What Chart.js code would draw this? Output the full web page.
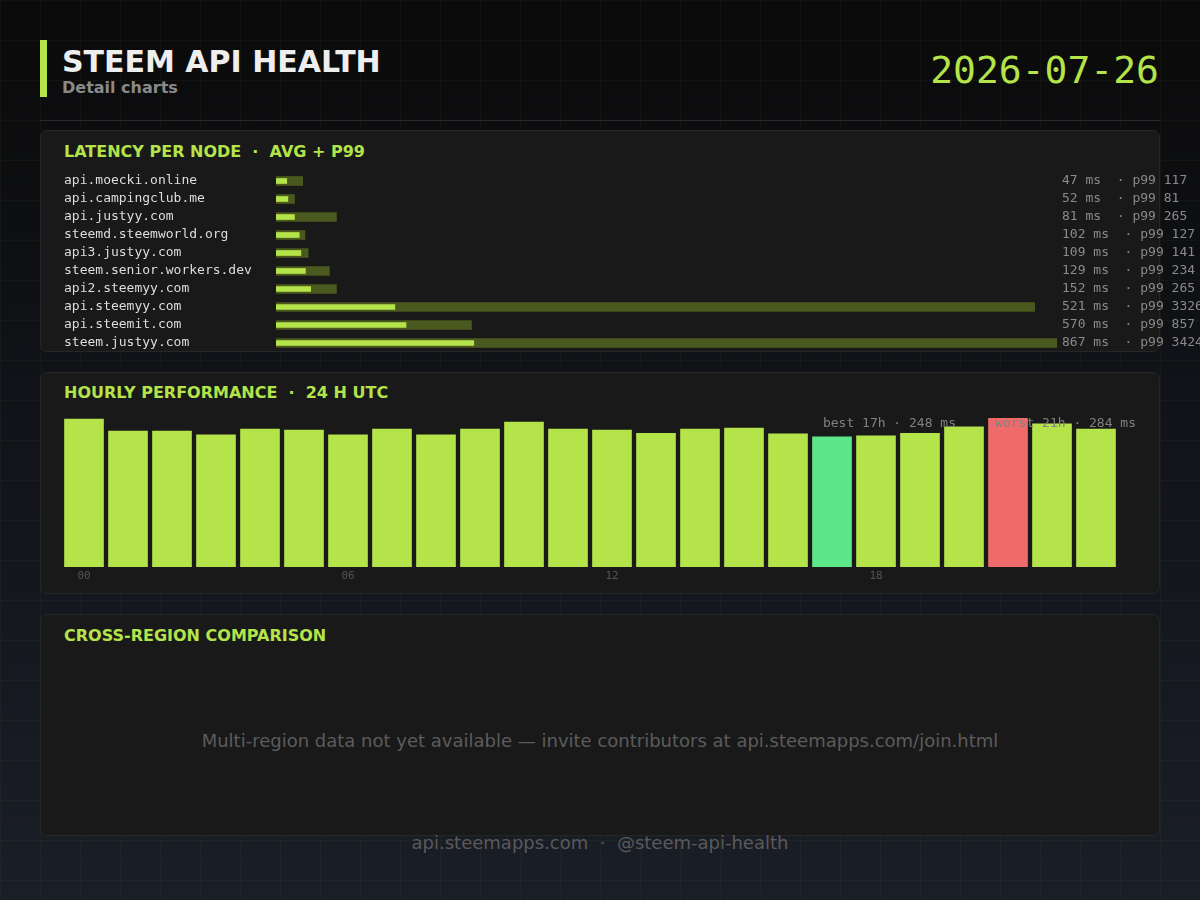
<!DOCTYPE html>
<html>
<head>
<meta charset="utf-8">
<script src="https://cdn.jsdelivr.net/npm/chart.js@4/dist/chart.umd.min.js"></script>
<style>
  html, body { margin: 0; padding: 0; }
  body {
    width: 1200px; height: 900px; overflow: hidden; position: relative;
    background-color: #0b0b0b;
    background-image:
      linear-gradient(rgba(181, 227, 74, 0.035) 1px, transparent 1px),
      linear-gradient(90deg, rgba(181, 227, 74, 0.035) 1px, transparent 1px),
      linear-gradient(180deg, #0a0a0a 0%, #12141a 50%, #1a1e27 100%);
    background-size: 40px 40px, 40px 40px, 100% 100%;
    font-family: "DejaVu Sans", sans-serif;
  }
  .abs { position: absolute; }
  .accent { left: 40px; top: 40px; width: 7px; height: 57px; background: #b5e34a; }
  .title { left: 62px; top: 42px; font-size: 30px; font-weight: bold; color: #eeeeee; line-height: 40px; }
  .subtitle { left: 62px; top: 78px; font-size: 16px; font-weight: bold; color: #8a8a8a; line-height: 20px; }
  .date { right: 41px; top: 46px; font-family: "DejaVu Sans Mono", monospace; font-size: 38px; color: #b5e34a; line-height: 48px; }
  .divider { left: 40px; top: 120px; width: 1120px; height: 1px; background: #2a2a2a; }
  .panel { left: 40px; width: 1118px; height: 220px; background: #191919; border: 1px solid #262626; border-radius: 7px; }
  .ptitle { left: 64px; font-size: 16px; font-weight: bold; color: #b5e34a; white-space: pre; line-height: 20px; }
  .note { right: 64px; top: 414px; font-family: "DejaVu Sans Mono", monospace; font-size: 13px; color: #808080; white-space: pre; line-height: 18px; z-index: 2; }
  .empty { left: 40px; width: 1120px; top: 730px; text-align: center; font-size: 18px; color: #5c5c5c; line-height: 22px; }
  .footer { left: 0; width: 1200px; top: 832px; text-align: center; font-size: 18px; color: #5a5a5a; white-space: pre; line-height: 22px; }
  canvas { position: absolute; }
</style>
</head>
<body>
<div class="abs accent"></div>
<div class="abs title">STEEM API HEALTH</div>
<div class="abs subtitle">Detail charts</div>
<div class="abs date" id="date"></div>
<div class="abs divider"></div>

<div class="abs panel" style="top:130px;"></div>
<div class="abs ptitle" style="top:142px;">LATENCY PER NODE  ·  AVG + P99</div>
<canvas id="latencyChart" width="1136" height="180" style="left:64px; top:172px;"></canvas>

<div class="abs panel" style="top:372px;"></div>
<div class="abs ptitle" style="top:383px;">HOURLY PERFORMANCE  ·  24 H UTC</div>
<canvas id="hourlyChart" width="1056" height="180" style="left:62px; top:412px;"></canvas>
<div class="abs note" id="hourNote"></div>

<div class="abs panel" style="top:614px;"></div>
<div class="abs ptitle" style="top:626px;">CROSS-REGION COMPARISON</div>
<div class="abs empty">Multi-region data not yet available — invite contributors at api.steemapps.com/join.html</div>

<div class="abs footer">api.steemapps.com  ·  @steem-api-health</div>

<script>
const reportDate = "2026-07-26";

const nodes = [
  "api.moecki.online",
  "api.campingclub.me",
  "api.justyy.com",
  "steemd.steemworld.org",
  "api3.justyy.com",
  "steem.senior.workers.dev",
  "api2.steemyy.com",
  "api.steemyy.com",
  "api.steemit.com",
  "steem.justyy.com",
];
const avgMs = [47, 52, 81, 102, 109, 129, 152, 521, 570, 867];
const p99Ms = [117, 81, 265, 127, 141, 234, 265, 3326, 857, 3424];

const hours = ["00", "01", "02", "03", "04", "05", "06", "07", "08", "09", "10", "11",
               "12", "13", "14", "15", "16", "17", "18", "19", "20", "21", "22", "23"];
const hourlyMs = [282, 259, 259, 252, 263, 261, 252, 263, 252, 263, 276, 263,
                  261, 255, 263, 265, 254, 248, 250, 255, 267, 284, 273, 263];

const mono = "DejaVu Sans Mono";
const lime = "#b5e34a";

document.getElementById("date").textContent = reportDate;

// the label columns sit on the band centres, so no extra top/bottom room
const fixAxis = (width) => (s) => {
  s.width = width;
  s.paddingTop = 0;
  s.paddingBottom = 0;
};

// latency per node: p99 bar behind, avg bar on top
const rightLabels = nodes.map((n, i) => `${avgMs[i]} ms  · p99 ${p99Ms[i]}`);

const ctxLatency = document.getElementById("latencyChart").getContext("2d");
let latencyChart = new Chart(ctxLatency, {
  type: "bar",
  data: {
    labels: nodes,
    datasets: [
      { label: "avg", data: avgMs, backgroundColor: lime, barThickness: 5 },
      { label: "p99", data: p99Ms, backgroundColor: "#4a5a1e", barThickness: 9 },
    ],
  },
  options: {
    indexAxis: "y",
    responsive: false,
    animation: false,
    datasets: { bar: { grouped: false } },
    layout: { padding: 0 },
    plugins: { legend: { display: false }, tooltip: { enabled: false } },
    scales: {
      x: { display: false, min: 0, max: Math.max(...p99Ms) },
      y: {
        position: "left",
        grid: { display: false, drawTicks: false },
        border: { display: false },
        ticks: { crossAlign: "far", autoSkip: false, padding: 0, color: "#dddddd", font: { family: mono, size: 13 } },
        afterFit: fixAxis(212),
      },
      yR: {
        type: "category",
        labels: rightLabels,
        position: "right",
        offset: true,
        grid: { display: false, drawTicks: false },
        border: { display: false },
        ticks: { crossAlign: "near", autoSkip: false, padding: 5, color: "#8a8a8a", font: { family: mono, size: 13 } },
        afterFit: fixAxis(143),
      },
    },
  },
});

// hourly performance
const best = hourlyMs.indexOf(Math.min(...hourlyMs));
const worst = hourlyMs.indexOf(Math.max(...hourlyMs));
const barColors = hourlyMs.map((v, i) => (i === best ? "#5ce88a" : i === worst ? "#ef6b6b" : lime));

document.getElementById("hourNote").textContent =
  `best ${hours[best]}h · ${hourlyMs[best]} ms     worst ${hours[worst]}h · ${hourlyMs[worst]} ms`;

const ctxHourly = document.getElementById("hourlyChart").getContext("2d");
let hourlyChart = new Chart(ctxHourly, {
  type: "bar",
  data: {
    labels: hours,
    datasets: [{ data: hourlyMs, backgroundColor: barColors, barThickness: 39 }],
  },
  options: {
    responsive: false,
    animation: false,
    layout: { padding: { top: 6 } },
    plugins: { legend: { display: false }, tooltip: { enabled: false } },
    scales: {
      y: { display: false, min: 0, max: Math.max(...hourlyMs) },
      x: {
        grid: { display: false, drawTicks: false },
        border: { display: false },
        ticks: {
          autoSkip: false,
          maxRotation: 0,
          padding: 3,
          color: "#555555",
          font: { family: mono, size: 11 },
          callback: (v, i) => (i % 6 === 0 ? hours[i] : ""),
        },
        afterFit: (s) => { s.height = 25; },
      },
    },
  },
});
</script>
</body>
</html>
